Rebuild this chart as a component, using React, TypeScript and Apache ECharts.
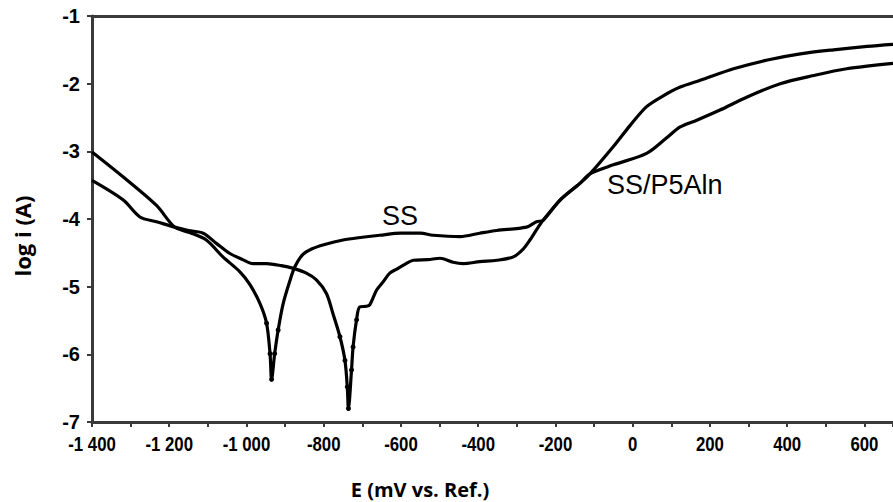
import React, { useEffect, useRef } from "react";
import * as echarts from "echarts";

// SS (corrosion potential near -935 mV)
const ssE = [-1400, -1319, -1233, -1186, -1147, -1104, -1061, -1017, -991, -965, -948, -939, -935, -927, -918, -905, -888, -875, -855, -830, -800, -750, -700, -655, -600, -550, -517, -447, -396, -352, -275, -249, -232, -188, -136, -110, -50, -7, 36, 79, 123, 175, 261, 349, 434, 520, 607, 674];
const ssLogI = [-3.01, -3.38, -3.80, -4.12, -4.20, -4.31, -4.56, -4.78, -4.97, -5.25, -5.54, -5.99, -6.37, -5.99, -5.64, -5.25, -4.92, -4.71, -4.53, -4.44, -4.38, -4.31, -4.27, -4.24, -4.21, -4.21, -4.24, -4.26, -4.21, -4.17, -4.12, -4.04, -4.02, -3.72, -3.47, -3.33, -2.93, -2.62, -2.34, -2.18, -2.05, -1.95, -1.78, -1.65, -1.56, -1.50, -1.45, -1.42];

// SS/P5Aln (corrosion potential near -736 mV)
const coatE = [-1400, -1319, -1276, -1233, -1186, -1150, -1112, -1078, -1043, -1010, -983, -948, -910, -879, -845, -819, -793, -776, -758, -745, -739, -736, -728, -724, -715, -707, -690, -681, -663, -645, -629, -611, -590, -568, -530, -499, -465, -439, -396, -352, -309, -283, -266, -248, -232, -188, -136, -110, -50, 36, 88, 123, 166, 226, 295, 382, 468, 554, 674];
const coatLogI = [-3.43, -3.72, -3.97, -4.04, -4.12, -4.17, -4.21, -4.36, -4.51, -4.60, -4.66, -4.66, -4.69, -4.73, -4.80, -4.90, -5.10, -5.40, -5.74, -6.09, -6.48, -6.80, -6.23, -5.89, -5.49, -5.30, -5.29, -5.27, -5.05, -4.92, -4.80, -4.74, -4.67, -4.61, -4.60, -4.58, -4.64, -4.66, -4.63, -4.61, -4.56, -4.44, -4.31, -4.15, -4.02, -3.72, -3.47, -3.33, -3.20, -3.03, -2.80, -2.64, -2.54, -2.39, -2.20, -2.00, -1.88, -1.78, -1.70];

const xMin = -1400;
const xMax = 674;
const xStep = 100;
const xLabelTicks = [-1400, -1200, -1000, -800, -600, -400, -200, 0, 200, 400, 600];
const yMin = -7;
const yMax = -1;
const yStep = 1;

const seriesNames = ["SS", "SS/P5Aln"];
const xTitle = "E (mV vs. Ref.)";
const yTitle = "log i (A)";

function fmtX(v: number): string {
  const sign = v < 0 ? "-" : "";
  const a = Math.abs(v);
  if (a >= 1000) {
    const th = Math.floor(a / 1000);
    const rest = String(a % 1000).padStart(3, "0");
    return sign + th + " " + rest;
  }
  return sign + a;
}

function buildData(es: number[], ys: number[]) {
  return es.map((e, i) => {
    const v = ys[i];
    if (v < -5.4) {
      return { value: [e, v], symbol: "circle", symbolSize: 5 };
    }
    return { value: [e, v] };
  });
}

export default function App() {
  const ref = useRef<HTMLDivElement>(null);
  useEffect(() => {
    if (!ref.current) return;
    const chart = echarts.init(ref.current, null, { renderer: "svg" });
    const axisColor = "#3a3a3a";
    const lineStyle = { color: "#000", width: 3.2 };
    const baseGraphic: any[] = [
      {
        type: "text",
        x: 382,
        y: 216,
        style: {
          text: seriesNames[0],
          fill: "#000",
          font: "27px 'Liberation Sans', Arial, sans-serif",
          verticalAlign: "middle",
          align: "left",
        },
      },
      {
        type: "text",
        x: 607,
        y: 185,
        style: {
          text: seriesNames[1],
          fill: "#000",
          font: "27px 'Liberation Sans', Arial, sans-serif",
          verticalAlign: "middle",
          align: "left",
        },
      },
      {
        type: "text",
        x: 420,
        y: 489,
        style: {
          text: xTitle,
          fill: "#000",
          font: "bold 20px 'Open Sans', sans-serif",
          align: "center",
          verticalAlign: "middle",
        },
      },
      {
        type: "text",
        x: 22,
        y: 236,
        rotation: Math.PI / 2,
        style: {
          text: yTitle,
          fill: "#000",
          font: "bold 22px 'Open Sans', sans-serif",
          align: "center",
          verticalAlign: "middle",
        },
      },
    ];
    chart.setOption({
      animation: false,
      backgroundColor: "#fff",
      grid: { left: 92, right: 0, top: 16, bottom: 80, containLabel: false },
      xAxis: [
        {
          type: "value",
          min: xMin,
          max: xMax,
          interval: xStep,
          position: "bottom",
          splitLine: { show: false },
          axisLine: { show: true, onZero: false, lineStyle: { color: axisColor, width: 3 } },
          axisTick: { show: true, inside: false, length: 5, lineStyle: { color: axisColor, width: 2 } },
          axisLabel: { show: false },
        },
        {
          type: "value",
          min: xMin,
          max: xMax,
          position: "top",
          splitLine: { show: false },
          axisLine: { show: true, onZero: false, lineStyle: { color: axisColor, width: 3 } },
          axisTick: { show: false },
          axisLabel: { show: false },
        },
      ],
      yAxis: {
        type: "value",
        min: yMin,
        max: yMax,
        interval: yStep,
        splitLine: { show: false },
        axisLine: { show: true, onZero: false, lineStyle: { color: axisColor, width: 3 } },
        axisTick: { show: true, length: 5, lineStyle: { color: axisColor, width: 2 } },
        axisLabel: {
          margin: 12,
          color: "#000",
          fontFamily: "'Liberation Sans', Arial, sans-serif",
          fontWeight: "bold",
          fontSize: 20,
        },
      },
      series: [
        {
          name: seriesNames[0],
          type: "line",
          data: buildData(ssE, ssLogI),
          symbol: "none",
          showSymbol: true,
          itemStyle: { color: "#000" },
          lineStyle,
          smooth: 0.3,
          z: 3,
        },
        {
          name: seriesNames[1],
          type: "line",
          data: buildData(coatE, coatLogI),
          symbol: "none",
          showSymbol: true,
          itemStyle: { color: "#000" },
          lineStyle,
          smooth: 0.3,
          z: 3,
        },
      ],
      graphic: baseGraphic,
    });
    // x tick labels in a condensed bold face, placed through the axis scale
    const yBase = chart.convertToPixel({ yAxisIndex: 0 }, yMin) as number;
    const labelGraphic = xLabelTicks.map((v) => ({
      type: "text",
      x: chart.convertToPixel({ xAxisIndex: 0 }, v) as number,
      y: yBase + 11,
      scaleX: 0.8,
      style: {
        text: fmtX(v),
        fill: "#000",
        font: "bold 21px 'Liberation Sans', Arial, sans-serif",
        align: "center",
        verticalAlign: "top",
      },
    }));
    chart.setOption({ graphic: [...baseGraphic, ...labelGraphic] });
    return () => chart.dispose();
  }, []);
  return (
    <div
      ref={ref}
      style={{ position: "fixed", left: 0, top: 0, width: 893, height: 502, background: "#fff" }}
    />
  );
}
